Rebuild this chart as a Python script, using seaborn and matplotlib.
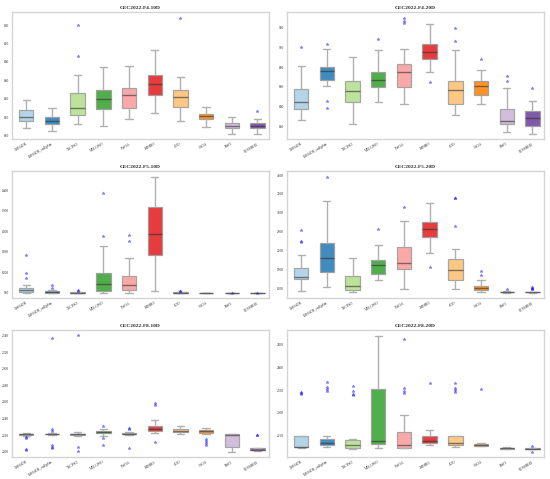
"""
CEC2022 box plots - F4, F5, F8 at 10D and 20D
"""

import matplotlib
matplotlib.use('Agg')
import matplotlib.pyplot as plt
import pandas as pd
import seaborn as sns

methods = ['LSHADE', 'LSHADE_cnEpSin', 'TACPSO', 'MELGWO', 'CWOA',
           'HPHHO', 'AOO', 'CSOA', 'BWO', 'QCSSHHO']

# (lower whisker, Q1, median, Q3, upper whisker) per method
f4_10d_box = [(804.2, 808.0, 809.8, 813.6, 819.3), (802.2, 806.0, 808.0, 810.2, 815.1),
              (806.0, 811.1, 815.1, 823.1, 833.1), (805.1, 814.2, 819.6, 824.9, 837.1),
              (809.1, 815.1, 822.0, 826.0, 838.0), (812.2, 822.2, 827.8, 832.7, 846.2),
              (808.0, 815.3, 821.1, 824.7, 832.0), (804.7, 808.7, 810.5, 811.8, 815.6),
              (800.9, 804.0, 805.1, 806.9, 810.2), (800.9, 804.0, 805.1, 806.9, 809.1)]
f4_10d_out = [[], [], [843.1, 860.2], [], [], [], [864.0], [], [], [813.1]]

f4_20d_box = [(826.8, 837.3, 844.7, 858.3, 881.4), (861.0, 867.1, 876.6, 880.7, 898.3),
              (822.4, 844.7, 855.9, 866.4, 890.5), (844.4, 859.7, 866.8, 875.6, 897.3),
              (842.4, 860.3, 874.9, 883.7, 898.3), (875.6, 888.8, 895.3, 903.1, 923.7),
              (831.9, 843.1, 857.3, 866.4, 897.3), (843.1, 851.9, 861.4, 866.1, 877.6),
              (813.9, 822.4, 825.8, 837.3, 859.3), (812.5, 820.7, 828.5, 835.9, 845.4)]
f4_20d_out = [[900.3], [903.7, 845.8, 838.6], [], [908.8], [929.5, 927.1, 925.1],
              [865.0], [906.1, 919.7], [888.8], [866.1, 871.2], [859.3]]

f5_10d_box = [(901.6, 904.9, 913.0, 925.9, 940.5), (900.0, 901.6, 903.2, 908.1, 914.6),
              (900.0, 900.5, 901.0, 903.2, 906.5), (900.5, 909.7, 943.7, 998.7, 1128.0),
              (900.5, 913.0, 938.8, 980.9, 1071.5), (911.3, 1084.5, 1189.6, 1319.1, 1466.3),
              (900.0, 900.5, 901.6, 903.2, 906.5), (900.2, 900.5, 900.8, 901.2, 901.8),
              (900.0, 900.1, 900.2, 900.3, 900.4), (900.0, 900.1, 900.2, 900.3, 900.4)]
f5_10d_out = [[972.8, 998.7, 1084.5], [924.3, 940.5], [911.3, 914.6], [1178.3, 1385.4],
              [1150.8, 1183.2], [], [908.1, 909.7], [], [901.0], [901.0]]

f5_20d_box = [(938.6, 1263.2, 1315.8, 1552.6, 1894.7), (1035.0, 1438.6, 1815.8, 2201.8, 3315.8),
              (912.3, 964.9, 1078.9, 1333.3, 1807.0), (1236.8, 1377.2, 1614.0, 1754.4, 2140.4),
              (982.5, 1517.5, 1684.2, 2105.3, 2789.5), (1929.8, 2359.6, 2578.9, 2754.4, 3263.2),
              (1000.0, 1228.0, 1491.2, 1771.9, 2043.9), (921.0, 964.9, 1017.5, 1070.2, 1225.0),
              (894.7, 903.5, 912.3, 921.0, 945.0), (894.7, 899.0, 903.5, 908.0, 921.0)]
f5_20d_out = [[2236.8, 2254.4, 2535.0], [3947.4], [], [2561.4], [3157.9], [1579.0],
              [2650.0, 3403.5, 3386.0], [1359.6, 1456.0], [1000.0], [982.0, 1000.0, 1026.0, 1052.0]]

f8_10d_box = [(2219.2, 2220.4, 2220.8, 2221.6, 2222.4), (2220.4, 2220.8, 2221.2, 2221.6, 2222.0),
              (2219.2, 2220.0, 2220.8, 2221.6, 2223.8), (2219.2, 2222.0, 2223.6, 2224.8, 2227.6),
              (2220.0, 2220.8, 2221.2, 2222.0, 2223.6), (2222.8, 2224.8, 2227.6, 2230.4, 2237.6),
              (2220.8, 2223.2, 2225.2, 2227.2, 2230.4), (2220.8, 2222.8, 2224.4, 2225.6, 2228.8),
              (2200.0, 2205.2, 2219.6, 2220.8, 2221.6), (2200.8, 2201.6, 2202.4, 2204.0, 2204.8)]
f8_10d_out = [[2217.6, 2216.0, 2203.2, 2201.6], [2226.8, 2224.8, 2207.6, 2205.6, 2204.0, 2336.8],
              [2205.6, 2201.2, 2340.0], [2231.2, 2216.8, 2208.0], [2228.0, 2226.8, 2204.4],
              [2258.4, 2256.8, 2211.6], [], [2215.6, 2213.2, 2210.4, 2208.0], [],
              [2220.4, 2220.5]]

f8_20d_box = [(2222.3, 2224.5, 2224.5, 2250.0, 2250.0), (2225.9, 2230.3, 2234.7, 2242.0, 2250.0),
              (2221.5, 2223.7, 2228.8, 2239.8, 2242.7), (2223.7, 2231.8, 2238.3, 2352.9, 2469.0),
              (2222.3, 2223.7, 2230.3, 2258.8, 2294.5), (2228.8, 2233.9, 2237.6, 2250.0, 2263.1),
              (2224.5, 2228.8, 2233.2, 2248.5, 2250.0), (2227.4, 2228.1, 2230.3, 2231.0, 2234.7),
              (2220.0, 2221.5, 2222.3, 2223.0, 2225.0), (2220.8, 2221.5, 2221.5, 2222.3, 2223.0)]
f8_20d_out = [[2347.0, 2341.0, 2344.0], [2367.5, 2358.0, 2353.0, 2347.8],
              [2358.8, 2349.3, 2342.7, 2340.5], [], [2462.4, 2354.0, 2349.0, 2345.0],
              [2366.0], [2366.0, 2354.0, 2350.7, 2347.0], [2352.2], [], [2227.4, 2215.0]]

titles = ['CEC2022-F4-10D', 'CEC2022-F4-20D', 'CEC2022-F5-10D',
          'CEC2022-F5-20D', 'CEC2022-F8-10D', 'CEC2022-F8-20D']
yticks = [list(range(800, 861, 10)), list(range(820, 921, 20)),
          list(range(900, 1401, 100)), list(range(1000, 4001, 500)),
          list(range(2200, 2341, 20)), list(range(2250, 2451, 50))]
ylims = [(798.2, 867.1), (807.5, 936.0), (876.0, 1494.0),
         (754.0, 4105.0), (2193.6, 2346.4), (2203.3, 2482.0)]


def expand(stats, outliers, k=20):
    """Build a sample whose quartiles / whiskers equal the given summary"""
    low, q1, med, q3, high = stats
    below = [o for o in outliers if o < med]
    above = [o for o in outliers if o > med]
    m = abs(len(above) - len(below)) + 3
    return below + [low] + [q1] * k + [med] * m + [q3] * k + [high] + above


def to_frame(boxes, outs):
    rows = []
    for name, st, ol in zip(methods, boxes, outs):
        for v in expand(st, ol):
            rows.append({'method': name, 'value': v})
    return pd.DataFrame(rows)


panels = [(f4_10d_box, f4_10d_out), (f4_20d_box, f4_20d_out),
          (f5_10d_box, f5_10d_out), (f5_20d_box, f5_20d_out),
          (f8_10d_box, f8_10d_out), (f8_20d_box, f8_20d_out)]

sns.set_style('white')
plt.rcParams['font.family'] = ['Liberation Serif', 'DejaVu Serif']

fig, axes = plt.subplots(3, 2, figsize=(5.5, 4.79), dpi=100)
plt.subplots_adjust(left=0.022, right=0.989, top=0.975, bottom=0.046,
                    wspace=0.07, hspace=0.255)

for ax, (boxes, outs), title, yt, yl in zip(axes.flat, panels, titles, yticks, ylims):
    df = to_frame(boxes, outs)
    sns.boxplot(data=df, x='method', y='value', hue='method', palette='Paired',
                saturation=1, width=0.56, legend=False, ax=ax,
                linewidth=0.9, linecolor='#9a9a9a',
                boxprops=dict(alpha=0.85),
                whiskerprops=dict(color='#b0b0b0', linewidth=1.0),
                capprops=dict(color='#b0b0b0', linewidth=1.0),
                medianprops=dict(color='#303030', alpha=0.6, linewidth=1.0),
                flierprops=dict(marker='*', markerfacecolor='blue',
                                markeredgecolor='blue', markersize=2.4,
                                alpha=0.45, markeredgewidth=0.3))
    ax.set_title(title, fontsize=3.9, fontweight='bold', pad=2.5)
    ax.set_xlabel('')
    ax.set_ylabel('')
    ax.set_yticks(yt)
    ax.set_ylim(yl)
    ax.set_xlim(-0.55, 9.45)
    ax.tick_params(axis='both', labelsize=2.5, length=1.2, width=0.4, pad=1)
    plt.setp(ax.get_xticklabels(), rotation=30, ha='right', rotation_mode='anchor')
    for sp in ax.spines.values():
        sp.set_color('#d4d4d4')
        sp.set_linewidth(1.0)

plt.savefig('out.png', dpi=100)
plt.close()
